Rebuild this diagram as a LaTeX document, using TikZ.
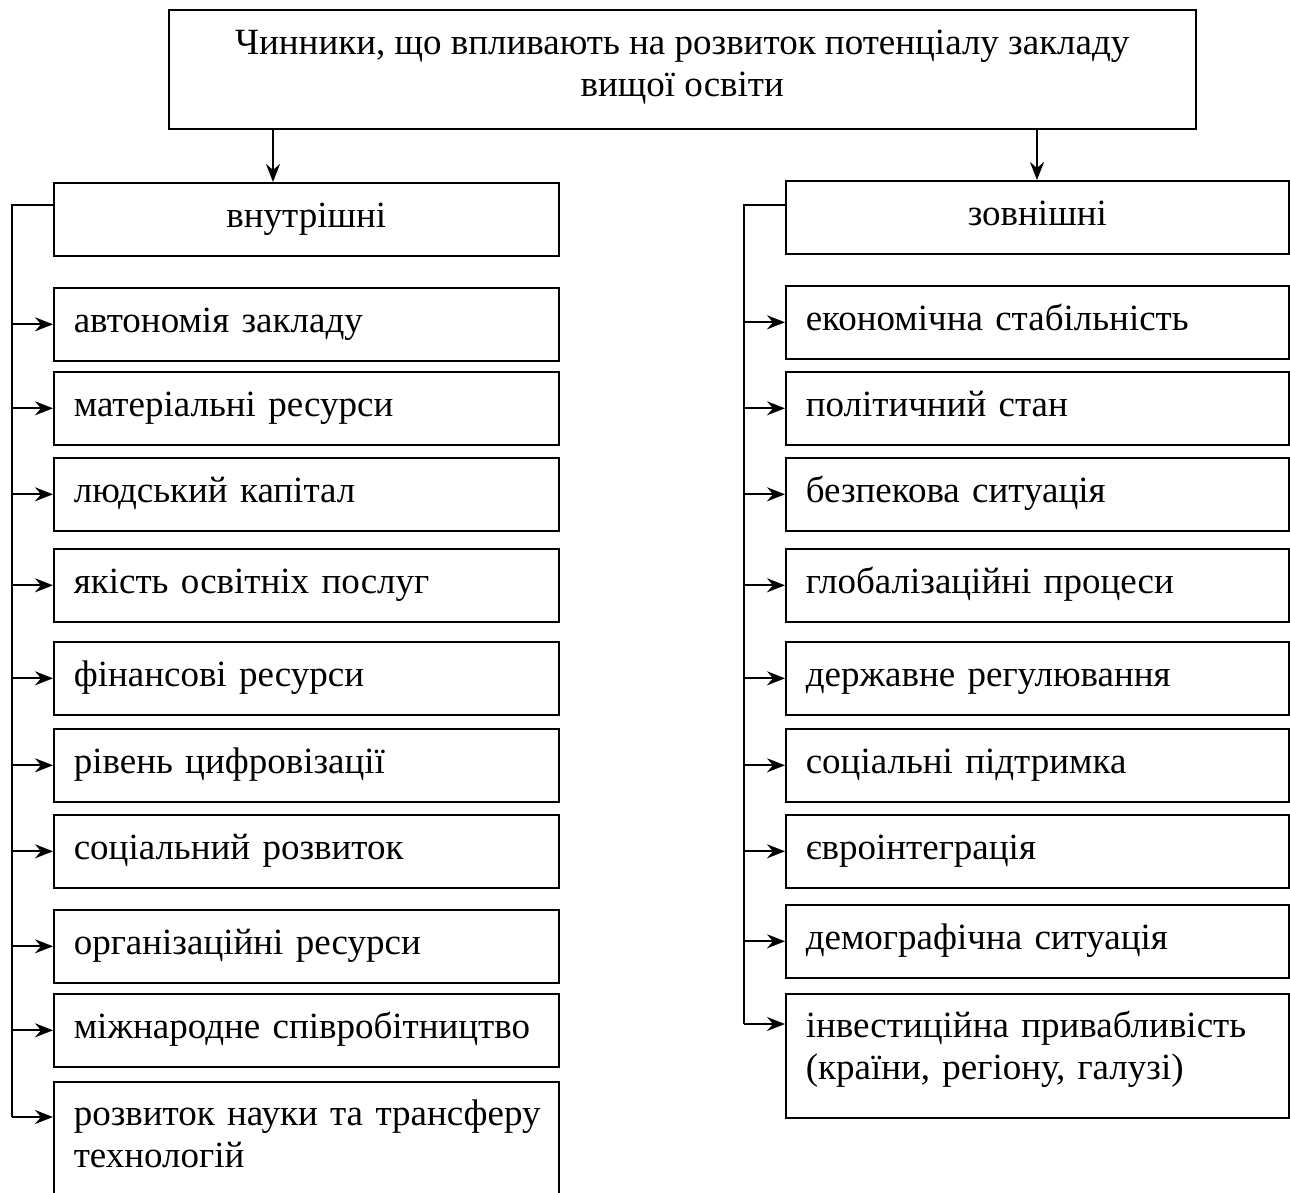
\documentclass[tikz,border=0pt]{standalone}
\usepackage{fontspec}
\setmainfont{Liberation Serif}
\usetikzlibrary{arrows.meta,calc}
\newcommand\tpst{\rule{0pt}{15pt}}
\newcommand\btst{\rule[-6.5pt]{0pt}{0pt}}
\newcommand\btstb{\rule[-12pt]{0pt}{0pt}}
\newcommand\btstt{\rule[-8.5pt]{0pt}{0pt}}
\begin{document}
\begin{tikzpicture}[x=0.5pt,y=-0.5pt,
  box/.style={draw,line width=0.8pt,rectangle,anchor=north west,inner xsep=10pt,inner ysep=0pt,
    font=\fontsize{18.5}{21}\selectfont},
  lbox/.style={box,align=left,text width=232.5pt,minimum height=36.5pt},
  rbox/.style={box,align=left,text width=231.5pt,minimum height=36.5pt},
  conn/.style={line width=1pt},
  arr/.style={line width=1pt,-{Stealth[length=9pt,width=7pt,inset=3pt]}}]
\useasboundingbox (0,0) rectangle (1290,1193);
\clip (0,0) rectangle (1290,1193);
% title
\node[box,align=center,minimum width=513.5pt,minimum height=59.5pt,inner xsep=0pt] (top) at (168,9)
  {\tpst Чинники, що впливають на розвиток потенціалу закладу\\вищої освіти\btstt};
% headings
\node[box,align=center,minimum width=252.5pt,minimum height=36.5pt,inner xsep=0pt] (int) at (53,182) {\tpst внутрішні\btst};
\node[box,align=center,minimum width=251.5pt,minimum height=36.5pt,inner xsep=0pt] (ext) at (785,180) {\tpst зовнішні\btst};
% left items
\node[lbox] (l1) at (53,287) {\tpst автономія закладу\btst};
\node[lbox] (l2) at (53,371) {\tpst матеріальні ресурси\btst};
\node[lbox] (l3) at (53,457) {\tpst людський капітал\btst};
\node[lbox] (l4) at (53,548) {\tpst якість освітніх послуг\btst};
\node[lbox] (l5) at (53,641) {\tpst фінансові ресурси\btst};
\node[lbox] (l6) at (53,728) {\tpst рівень цифровізації\btst};
\node[lbox] (l7) at (53,814) {\tpst соціальний розвиток\btst};
\node[lbox] (l8) at (53,909) {\tpst організаційні ресурси\btst};
\node[lbox] (l9) at (53,993) {\tpst\mbox{міжнародне співробітництво}\btst};
\node[lbox,minimum height=62pt] (l10) at (53,1081) {\tpst\mbox{розвиток науки та трансферу}\\технологій\btstb};
% right items
\node[rbox] (r1) at (785,285) {\tpst економічна стабільність\btst};
\node[rbox] (r2) at (785,371) {\tpst політичний стан\btst};
\node[rbox] (r3) at (785,457) {\tpst безпекова ситуація\btst};
\node[rbox] (r4) at (785,548) {\tpst глобалізаційні процеси\btst};
\node[rbox] (r5) at (785,641) {\tpst державне регулювання\btst};
\node[rbox] (r6) at (785,728) {\tpst соціальні підтримка\btst};
\node[rbox] (r7) at (785,814) {\tpst євроінтеграція\btst};
\node[rbox] (r8) at (785,904) {\tpst демографічна ситуація\btst};
\node[rbox,minimum height=62pt] (r9) at (785,993) {\tpst\mbox{інвестиційна привабливість}\\(країни, регіону, галузі)\btstb};
% helper coordinates
\coordinate (ax) at (273,0);
\coordinate (bx) at (1037,0);
\coordinate (lx) at (12,0);
\coordinate (rx) at (744,0);
\coordinate (intj) at ([yshift=-11.5pt]int.north west);
\coordinate (extj) at ([yshift=-12.5pt]ext.north west);
\coordinate (l10j) at ([yshift=-18pt]l10.north west);
\coordinate (r9j) at ([yshift=-15.5pt]r9.north west);
% top arrows
\draw[arr] (top.south -| ax) -- (int.north -| ax);
\draw[arr] (top.south -| bx) -- (ext.north -| bx);
% left bracket
\draw[conn] (intj) -| (lx |- l10j);
\foreach \k in {1,...,9} \draw[arr] (lx |- l\k.west) -- (l\k.west);
\draw[arr] (lx |- l10j) -- (l10j);
% right bracket
\draw[conn] (extj) -| (rx |- r9j);
\foreach \k in {1,...,8} \draw[arr] (rx |- r\k.west) -- (r\k.west);
\draw[arr] (rx |- r9j) -- (r9j);
\end{tikzpicture}
\end{document}
